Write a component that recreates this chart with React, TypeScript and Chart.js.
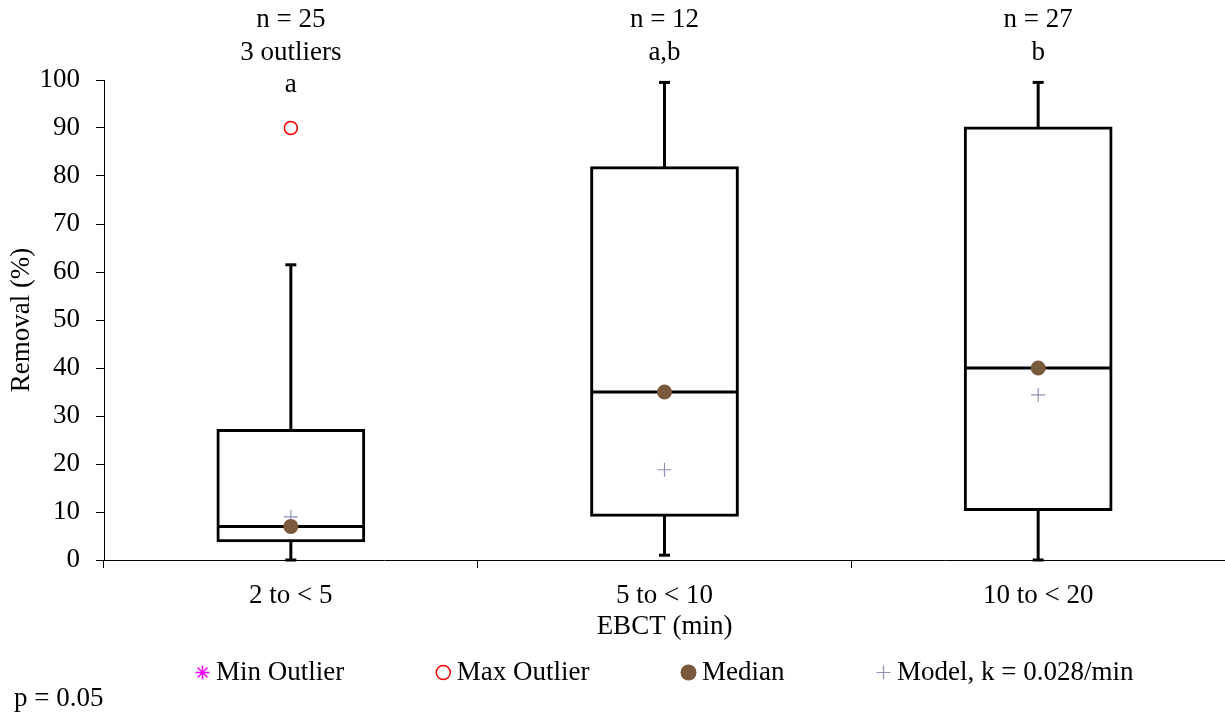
import React, { useEffect, useRef } from 'react';
import { Chart, registerables } from 'chart.js';
import { drawPoint } from 'chart.js/helpers';

Chart.register(...registerables);

// ---- data ----
const categories = ['2 to < 5', '5 to < 10', '10 to < 20'];
const q1Values = [4, 9.3, 10.5];
const q3Values = [27, 81.7, 90];
const medianValues = [7, 35, 40];
const whiskerMinValues = [0, 1, 0];
const whiskerMaxValues = [61.5, 99.5, 99.5];
const maxOutlierValues: (number | null)[] = [90, null, null];
const minOutlierValues: (number | null)[] = [null, null, null];
const modelValues = [9, 18.8, 34.4];
const topNotes = [
  ['n = 25', '3 outliers', 'a'],
  ['n = 12', 'a,b'],
  ['n = 27', 'b'],
];
const yMin = 0;
const yMax = 100;
const yStep = 10;
const xTitle = 'EBCT (min)';
const yTitle = 'Removal (%)';
const pNote = 'p = 0.05';

const FAMILY = '"Liberation Serif", "Times New Roman", serif';
const FSIZE = 27;
const FONT = `${FSIZE}px ${FAMILY}`;

const boxExtrasPlugin = {
  id: 'boxExtras',
  afterDatasetDraw(chart: any, args: any) {
    if (args.index !== 0) return;
    const { ctx, scales } = chart;
    const y = scales.y;
    const meta = chart.getDatasetMeta(0);
    ctx.save();
    ctx.strokeStyle = '#000';
    ctx.lineWidth = 3;
    ctx.lineCap = 'butt';
    const line = (x1: number, y1: number, x2: number, y2: number) => {
      ctx.beginPath();
      ctx.moveTo(x1, y1);
      ctx.lineTo(x2, y2);
      ctx.stroke();
    };
    categories.forEach((_, i) => {
      const bar = meta.data[i];
      const cx = bar.x;
      const half = bar.width / 2;
      const yq1 = y.getPixelForValue(q1Values[i]);
      const yq3 = y.getPixelForValue(q3Values[i]);
      const ymed = y.getPixelForValue(medianValues[i]);
      const ylo = y.getPixelForValue(whiskerMinValues[i]);
      const yhi = y.getPixelForValue(whiskerMaxValues[i]);
      const cap = 5.5;
      line(cx, yq3, cx, yhi);
      line(cx - cap, yhi, cx + cap, yhi);
      line(cx, yq1, cx, ylo);
      line(cx - cap, ylo, cx + cap, ylo);
      line(cx - half, ymed, cx + half, ymed);
    });
    ctx.restore();
  },
};

const annotationsPlugin = {
  id: 'annotations',
  afterDraw(chart: any) {
    const { ctx, scales, chartArea } = chart;
    const x = scales.x;
    ctx.save();
    ctx.font = FONT;
    ctx.fillStyle = '#000';
    ctx.textAlign = 'center';
    ctx.textBaseline = 'middle';
    topNotes.forEach((lines, i) => {
      const cx = x.getPixelForValue(i);
      lines.forEach((t, k) => ctx.fillText(t, cx, 20 + k * 32.5));
    });

    // legend
    const items = chart.data.datasets.filter((d: any) => d.inLegend);
    const widths = items.map((d: any) => ctx.measureText(d.label).width);
    const markerHalf = 7;
    const textOffset = 20.5;
    const gap = 92;
    const total =
      widths.reduce((a: number, w: number) => a + w + textOffset, 0) + gap * (items.length - 1);
    let cursor = (chartArea.left + chartArea.right) / 2 - total / 2;
    const ly = 672.5;
    items.forEach((d: any, k: number) => {
      const mx = cursor + markerHalf;
      ctx.fillStyle = d.pointBackgroundColor;
      ctx.strokeStyle = d.pointBorderColor;
      ctx.lineWidth = d.pointBorderWidth;
      drawPoint(
        ctx,
        { pointStyle: d.pointStyle, radius: d.legendRadius, rotation: 0, borderWidth: d.pointBorderWidth },
        mx,
        ly
      );
      ctx.fillStyle = '#000';
      ctx.textAlign = 'left';
      ctx.fillText(d.label, cursor + textOffset, ly);
      cursor += textOffset + widths[k] + gap;
    });

    ctx.textAlign = 'left';
    ctx.fillStyle = '#000';
    ctx.fillText(pNote, 14, 698.5);
    ctx.restore();
  },
};

export default function App() {
  const ref = useRef<HTMLCanvasElement>(null);
  useEffect(() => {
    document.body.style.margin = '0';
    Chart.defaults.font.family = FAMILY;
    const chart = new Chart(ref.current as HTMLCanvasElement, {
      type: 'bar',
      data: {
        labels: categories,
        datasets: [
          {
            type: 'bar',
            label: 'Box',
            data: q1Values.map((q1, i) => [q1, q3Values[i]]),
            backgroundColor: '#ffffff',
            borderColor: '#000000',
            borderWidth: 3,
            borderSkipped: false,
            inflateAmount: 1.5,
            barPercentage: 0.39,
            categoryPercentage: 1,
            order: 1,
          } as any,
          {
            type: 'line',
            label: 'Min Outlier',
            data: minOutlierValues,
            showLine: false,
            pointStyle: 'star',
            pointRadius: 7,
            legendRadius: 7,
            pointBackgroundColor: '#ff00ff',
            pointBorderColor: '#ff00ff',
            pointBorderWidth: 1.5,
            inLegend: true,
            order: 0,
          } as any,
          {
            type: 'line',
            label: 'Max Outlier',
            data: maxOutlierValues,
            showLine: false,
            pointStyle: 'circle',
            pointRadius: 6.5,
            legendRadius: 7,
            pointBackgroundColor: '#ffffff',
            pointBorderColor: '#ff0000',
            pointBorderWidth: 1.5,
            inLegend: true,
            order: 0,
          } as any,
          {
            type: 'line',
            label: 'Median',
            data: medianValues,
            showLine: false,
            pointStyle: 'circle',
            pointRadius: 7.5,
            legendRadius: 8,
            pointBackgroundColor: '#7a5a3c',
            pointBorderColor: '#7a5a3c',
            pointBorderWidth: 0,
            inLegend: true,
            order: 0,
          } as any,
          {
            type: 'line',
            label: 'Model, k = 0.028/min',
            data: modelValues,
            showLine: false,
            pointStyle: 'cross',
            pointRadius: 7,
            legendRadius: 7,
            pointBackgroundColor: '#8e8eb8',
            pointBorderColor: '#8e8eb8',
            pointBorderWidth: 1.2,
            inLegend: true,
            order: 0,
          } as any,
        ],
      },
      options: {
        responsive: false,
        animation: false,
        layout: { autoPadding: false, padding: { top: 80, bottom: 72, left: 0, right: 0 } },
        plugins: {
          legend: { display: false },
          tooltip: { enabled: false },
        },
        scales: {
          x: {
            afterFit: (s: any) => {
              s.height = 83;
            },
            grid: { drawOnChartArea: false, drawTicks: true, tickLength: 8, color: '#000', offset: true },
            border: { display: true, color: '#000', width: 1 },
            ticks: { color: '#000', font: { size: FSIZE, family: FAMILY }, padding: 12, maxRotation: 0 },
            title: {
              display: true,
              text: xTitle,
              color: '#000',
              font: { size: FSIZE, family: FAMILY },
              padding: { top: 0, bottom: 0 },
            },
          },
          y: {
            min: yMin,
            max: yMax,
            afterFit: (s: any) => {
              s.width = 104;
            },
            grid: { drawOnChartArea: false, drawTicks: true, tickLength: 8, color: '#000' },
            border: { display: true, color: '#000', width: 1 },
            ticks: { stepSize: yStep, color: '#000', font: { size: FSIZE, family: FAMILY }, padding: 16 },
            title: {
              display: true,
              text: yTitle,
              color: '#000',
              font: { size: FSIZE, family: FAMILY },
              padding: { top: 6, bottom: 0 },
            },
          },
        },
      },
      plugins: [boxExtrasPlugin, annotationsPlugin],
    });
    return () => chart.destroy();
  }, []);
  return (
    <div style={{ width: 1225, height: 715 }}>
      <canvas ref={ref} width={1225} height={715} style={{ display: 'block' }} />
    </div>
  );
}
